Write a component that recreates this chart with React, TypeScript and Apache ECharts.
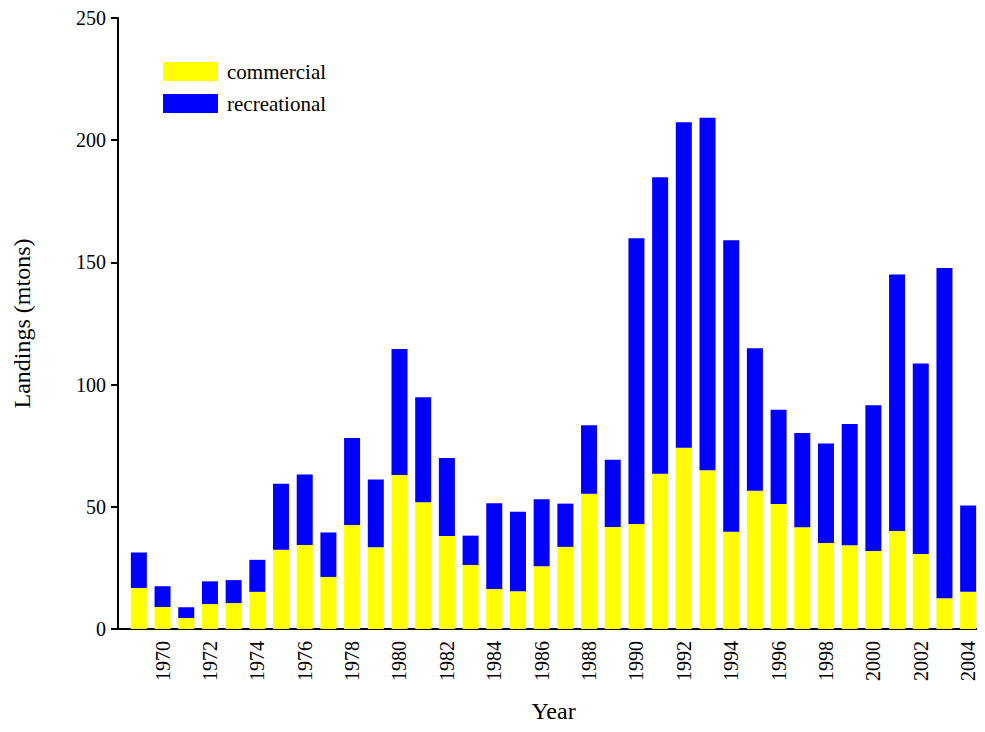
import { useEffect, useRef } from 'react';
import * as echarts from 'echarts';

const years = Array.from({ length: 36 }, (_, i) => String(1969 + i));
// total landings (mtons)
const totals = [31.3, 17.5, 8.9, 19.5, 20, 28.3, 59.4, 63.2, 39.5, 78.1, 61.2, 114.6, 94.8, 70, 38.2, 51.5, 48, 53.1,
    51.3, 83.4, 69.3, 159.9, 184.8, 207.3, 209.2, 159.1, 114.9, 89.7, 80.2, 75.9, 83.9, 91.6, 145, 108.6, 147.7, 50.5];
const commercial = [16.8, 9, 4.5, 10.2, 10.6, 15.2, 32.4, 34.4, 21.3, 42.6, 33.5, 63, 51.9, 38.1, 26.2, 16.4, 15.4, 25.7,
    33.6, 55.3, 41.7, 43, 63.5, 74.2, 65, 39.8, 56.6, 51.1, 41.6, 35.2, 34.3, 31.9, 40.1, 30.7, 12.6, 15.2];
const recreational = totals.map((t, i) => +(t - commercial[i]).toFixed(1));

const font = '"Liberation Serif", "Times New Roman", serif';

const App = () => {
    const chartRef = useRef<HTMLDivElement>(null);

    useEffect(() => {
        const chart = echarts.init(chartRef.current, null, { renderer: 'svg' });
        chart.setOption({
            animation: false,
            textStyle: { fontFamily: font },
            legend: {
                orient: 'vertical',
                left: 158,
                top: 56,
                itemWidth: 55,
                itemHeight: 19,
                itemGap: 11,
                icon: 'rect',
                textStyle: { fontFamily: font, fontSize: 21, color: '#000', padding: [0, 0, 0, 4] },
                data: ['commercial', 'recreational']
            },
            // x axis line stub between y axis and the first band
            graphic: [{ type: 'line', shape: { x1: 117, y1: 629, x2: 128, y2: 629 }, style: { stroke: '#000', lineWidth: 2 } }],
            grid: { left: 127, right: 5, top: 18, bottom: 103, containLabel: false, outerBoundsMode: 'none' },
            xAxis: {
                type: 'category',
                data: years,
                name: 'Year',
                nameLocation: 'middle',
                nameGap: 70,
                nameTextStyle: { fontFamily: font, fontSize: 24, color: '#000' },
                axisLine: { lineStyle: { color: '#000', width: 2 } },
                axisTick: {
                    alignWithLabel: true,
                    length: 7,
                    lineStyle: { color: '#000', width: 2 },
                    interval: (i: number) => i % 2 === 1
                },
                axisLabel: {
                    rotate: 90,
                    interval: (i: number) => i % 2 === 1,
                    fontFamily: font,
                    fontSize: 20,
                    color: '#000',
                    margin: 12
                }
            },
            yAxis: {
                type: 'value',
                min: 0,
                max: 250,
                interval: 50,
                offset: 9,
                name: 'Landings (mtons)',
                nameLocation: 'middle',
                nameGap: 84,
                nameTextStyle: { fontFamily: font, fontSize: 24, color: '#000' },
                splitLine: { show: false },
                axisLine: { show: true, lineStyle: { color: '#000', width: 2 } },
                axisTick: { show: true, length: 7, lineStyle: { color: '#000', width: 2 } },
                axisLabel: { fontFamily: font, fontSize: 20, color: '#000', margin: 12 }
            },
            series: [
                {
                    name: 'commercial',
                    type: 'bar',
                    stack: 'all',
                    barWidth: 16,
                    itemStyle: { color: '#ffff00' },
                    data: commercial
                },
                {
                    name: 'recreational',
                    type: 'bar',
                    stack: 'all',
                    barWidth: 16,
                    itemStyle: { color: '#0000ff' },
                    data: recreational
                }
            ]
        });
        return () => chart.dispose();
    }, []);

    return <div ref={chartRef} style={{ width: '985px', height: '732px', margin: '-8px' }} />;
};

export default App;
